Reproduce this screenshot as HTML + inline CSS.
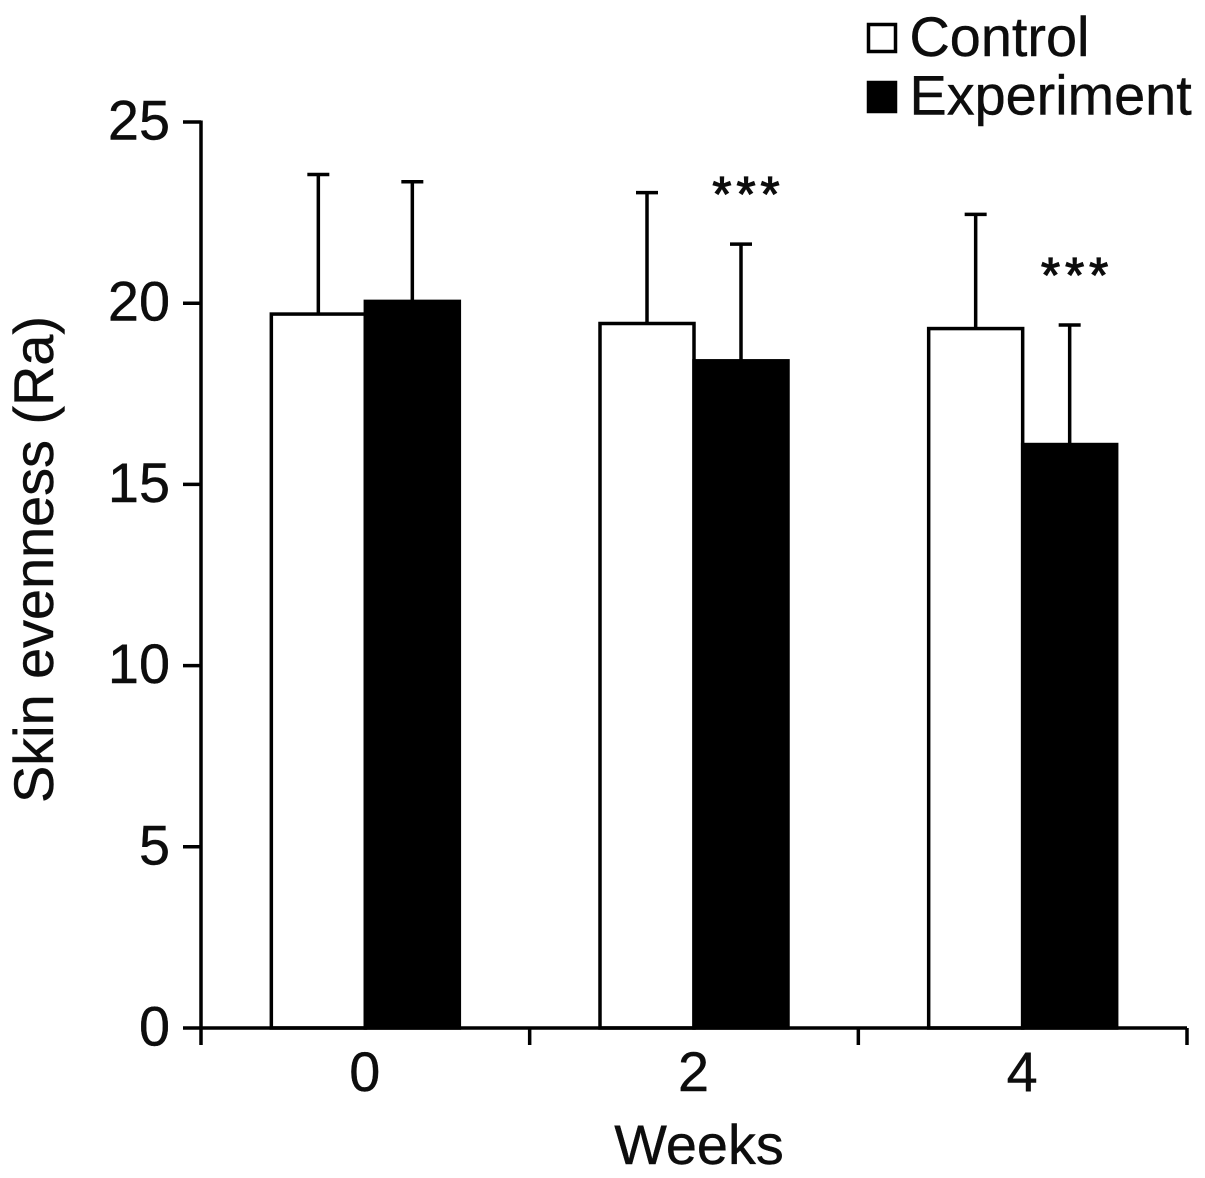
<!DOCTYPE html>
<html>
<head>
<meta charset="utf-8">
<style>
html,body{margin:0;padding:0;background:#fff;width:1205px;height:1178px;overflow:hidden}
svg{display:block}
text{font-family:"Liberation Sans",Arial,sans-serif;fill:#0d0d0d;stroke:#0d0d0d;stroke-width:0.4px}
</style>
</head>
<body>
<svg id="chart" width="1205" height="1178" viewBox="0 0 1205 1178" xmlns="http://www.w3.org/2000/svg"></svg>
<script>
const categories = ['0', '2', '4'];
const seriesNames = ['Control', 'Experiment'];
const controlValues = [19.7, 19.44, 19.3];
const experimentValues = [20.05, 18.41, 16.1];
const controlErrors = [3.85, 3.61, 3.15];
const experimentErrors = [3.3, 3.22, 3.3];
const significance = ['', '***', '***'];
const yTicks = [0, 5, 10, 15, 20, 25];

const NS = 'http://www.w3.org/2000/svg';
const svg = document.getElementById('chart');
const plotLeft = 201, plotRight = 1187, plotBottom = 1028, plotTop = 122, yMax = 25;
const yScale = v => plotBottom - (v / yMax) * (plotBottom - plotTop);
const groupWidth = (plotRight - plotLeft) / categories.length;
const groupCenter = i => plotLeft + groupWidth * (i + 0.5);
const barWidth = 94;
const lineW = 3.5;
const fontSize = 55.8;

function add(tag, attrs, text) {
  const el = document.createElementNS(NS, tag);
  for (const k in attrs) el.setAttribute(k, attrs[k]);
  if (text !== undefined) el.textContent = text;
  svg.appendChild(el);
  return el;
}

function drawError(cx, value, err, name) {
  const top = yScale(value + err), base = yScale(value);
  const stem = add('line', {x1: cx, x2: cx, y1: base, y2: top, stroke: '#000', 'stroke-width': lineW});
  
  
  const cap = add('line', {x1: cx - 11, x2: cx + 11, y1: top, y2: top, stroke: '#000', 'stroke-width': lineW});
  
  
}

categories.forEach((c, i) => {
  const cx = groupCenter(i);
  const x0 = cx - barWidth;
  drawError(x0 + barWidth / 2, controlValues[i], controlErrors[i], 'control-week-' + c);
  drawError(cx + barWidth / 2, experimentValues[i], experimentErrors[i], 'experiment-week-' + c);

  const b1 = add('rect', {x: x0, y: yScale(controlValues[i]), width: barWidth, height: plotBottom - yScale(controlValues[i]), fill: '#fff', stroke: '#000', 'stroke-width': lineW});
  
  
  const b2 = add('rect', {x: cx, y: yScale(experimentValues[i]), width: barWidth, height: plotBottom - yScale(experimentValues[i]), fill: '#000', stroke: '#000', 'stroke-width': lineW});
  
  

  if (significance[i]) {
    const s = add('text', {x: cx + barWidth / 2 + 7.5, y: yScale(experimentValues[i] + experimentErrors[i]) - 33, 'text-anchor': 'middle', 'font-size': 49, 'letter-spacing': 5, style: 'stroke-width:1.2px'}, significance[i]);
    
    
  }

  const t = add('text', {x: cx - 0.5, y: 1091, 'text-anchor': 'middle', 'font-size': fontSize}, c);
  
  
});

const yAxis = add('line', {x1: plotLeft, x2: plotLeft, y1: plotTop - 1.5, y2: plotBottom + 1.5, stroke: '#000', 'stroke-width': lineW});


const xAxis = add('line', {x1: plotLeft, x2: plotRight, y1: plotBottom, y2: plotBottom, stroke: '#000', 'stroke-width': lineW});



yTicks.forEach(v => {
  const y = yScale(v);
  const tick = add('line', {x1: plotLeft - 18, x2: plotLeft, y1: y, y2: y, stroke: '#000', 'stroke-width': lineW});
  
  
  const label = add('text', {x: 170, y: y + 17.5, 'text-anchor': 'end', 'font-size': fontSize}, String(v));
  
  
});

for (let i = 0; i <= categories.length; i++) {
  const x = plotLeft + groupWidth * i;
  const tick = add('line', {x1: x, x2: x, y1: plotBottom, y2: plotBottom + 17, stroke: '#000', 'stroke-width': lineW});
  
  
}

const yTitle = add('text', {x: 0, y: 0, transform: 'translate(53,559.5) rotate(-90)', 'text-anchor': 'middle', 'font-size': fontSize}, 'Skin evenness (Ra)');


const xTitle = add('text', {x: 699, y: 1164, 'text-anchor': 'middle', 'font-size': fontSize}, 'Weeks');



const lg1 = add('rect', {x: 868.5, y: 24.5, width: 27, height: 27, fill: '#fff', stroke: '#000', 'stroke-width': lineW});


const lt1 = add('text', {x: 909.5, y: 56, 'font-size': fontSize}, seriesNames[0]);


const lg2 = add('rect', {x: 868.5, y: 82.5, width: 27, height: 29, fill: '#000', stroke: '#000', 'stroke-width': lineW});


const lt2 = add('text', {x: 909.5, y: 114.5, 'font-size': fontSize}, seriesNames[1]);


</script>
</body>
</html>
